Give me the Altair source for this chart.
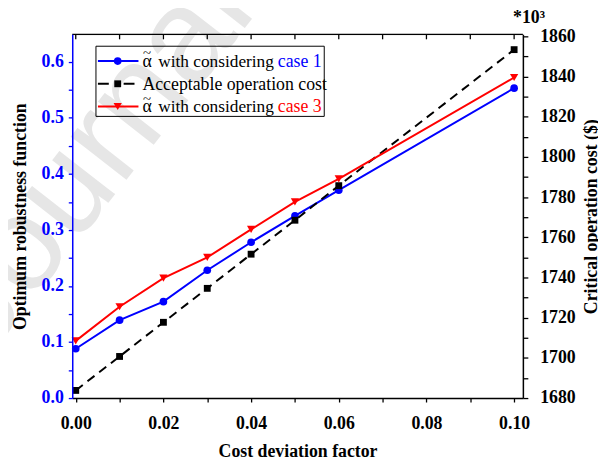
import altair as alt
import pandas as pd

# ---------------- data ----------------
x_vals = [0.00, 0.01, 0.02, 0.03, 0.04, 0.05, 0.06, 0.10]
case1 = [0.088, 0.139, 0.172, 0.228, 0.278, 0.325, 0.371, 0.553]
case3 = [0.102, 0.163, 0.214, 0.251, 0.301, 0.350, 0.391, 0.572]
cost = [1683.8, 1700.7, 1717.7, 1734.6, 1751.6, 1768.5, 1785.7, 1853.4]

x_ticks = [0.00, 0.01, 0.02, 0.03, 0.04, 0.05, 0.06, 0.07, 0.08, 0.09, 0.10]
left_ticks = [0.0, 0.05, 0.1, 0.15, 0.2, 0.25, 0.3, 0.35, 0.4, 0.45, 0.5, 0.55, 0.6]
right_ticks = [1680, 1690, 1700, 1710, 1720, 1730, 1740, 1750, 1760, 1770,
               1780, 1790, 1800, 1810, 1820, 1830, 1840, 1850, 1860]

legend_labels = ["with considering", "Acceptable operation cost", "with considering"]
legend_case = ["case 1", "case 3"]

df = pd.DataFrame({"x": x_vals, "case1": case1, "case3": case3, "cost": cost})
tick_df = pd.DataFrame({"x": x_ticks})
one = pd.DataFrame({"a": [0]})

W, H = 456, 368
SERIF = "Liberation Serif"
BLUE = "#0000ff"
RED = "#ff0000"

x_axis = alt.Axis(
    orient="bottom", values=x_ticks, format=".2f",
    labelExpr="round(datum.value*100) % 2 == 0 ? datum.label : ''",
    title="Cost deviation factor", tickSize=4, tickColor="black", tickWidth=1.3,
    domainColor="black", domainWidth=1.5, labelFont=SERIF, labelFontWeight="bold",
    labelFontSize=18, labelColor="black", labelPadding=13, labelFlush=False,
    labelOverlap=False, titleFont=SERIF, titleFontSize=18, titleFontWeight="bold",
    titleColor="black", titlePadding=10, grid=False, zindex=1)
x_scale = alt.Scale(domain=[-0.0008, 0.102], nice=False, zero=False)


def X():
    return alt.X("x:Q", scale=x_scale, axis=x_axis)


left_scale = alt.Scale(domain=[0, 0.649], nice=False, zero=False)
left_axis = alt.Axis(
    orient="left", values=left_ticks, format=".1f",
    labelExpr="round(datum.value*20) % 2 == 0 ? datum.label : ''",
    title="Optimum robustness function", tickSize=4, tickColor=BLUE, tickWidth=1.3,
    domainColor=BLUE, domainWidth=1.5, labelFont=SERIF, labelFontWeight="bold",
    labelFontSize=18, labelColor=BLUE, labelPadding=5, labelOverlap=False,
    labelFlush=False, titleFont=SERIF, titleFontSize=18, titleFontWeight="bold",
    titleColor="black", titlePadding=12, grid=False, zindex=1)

right_scale = alt.Scale(domain=[1680, 1861], nice=False, zero=False)
right_axis = alt.Axis(
    orient="right", values=right_ticks, format="d",
    labelExpr="datum.value % 20 == 0 ? datum.label : ''",
    title="Critical operation cost ($)", titleAngle=270, tickSize=5,
    tickColor="black", tickWidth=1.3, domainColor="black", domainWidth=1.5,
    labelFont=SERIF, labelFontWeight="bold", labelFontSize=18, labelColor="black",
    labelPadding=12, labelOverlap=False, labelFlush=False, titleFont=SERIF,
    titleFontSize=18, titleFontWeight="bold", titleColor="black", titlePadding=25,
    grid=False, zindex=1)

# watermark
watermark = alt.Chart(one).mark_text(
    text="Journal Pre-proof", font="Liberation Sans", fontSize=135, color="#e6e6e6",
    angle=308, align="left", baseline="alphabetic"
).encode(x=alt.value(-85), y=alt.value(326))

# frame top + inward ticks
top_border = alt.Chart(one).mark_rule(color="black", strokeWidth=1.5).encode(
    x=alt.value(0), x2=alt.value(W), y=alt.value(0))
top_ticks = alt.Chart(tick_df).mark_rule(color="black", strokeWidth=1.3).encode(
    x=X(), y=alt.value(0), y2=alt.value(5))

# series
blue_line = alt.Chart(df).mark_line(color=BLUE, strokeWidth=2).encode(
    x=X(), y=alt.Y("case1:Q", scale=left_scale, axis=left_axis))
blue_pts = alt.Chart(df).mark_point(filled=True, shape="circle", size=60,
                                    color=BLUE, opacity=1).encode(
    x=X(), y=alt.Y("case1:Q", scale=left_scale, axis=left_axis))
blue = alt.layer(blue_line, blue_pts)

black_line = alt.Chart(df).mark_line(color="black", strokeWidth=2,
                                     strokeDash=[9, 6]).encode(
    x=X(), y=alt.Y("cost:Q", scale=right_scale, axis=right_axis))
black_pts = alt.Chart(df).mark_point(filled=True, shape="square", size=48,
                                     color="black", opacity=1).encode(
    x=X(), y=alt.Y("cost:Q", scale=right_scale, axis=right_axis))
black = alt.layer(black_line, black_pts)

red_line = alt.Chart(df).mark_line(color=RED, strokeWidth=2).encode(
    x=X(), y=alt.Y("case3:Q", scale=left_scale, axis=None))
red_pts = alt.Chart(df).mark_point(filled=True, shape="triangle-down", size=70,
                                   color=RED, opacity=1).encode(
    x=X(), y=alt.Y("case3:Q", scale=left_scale, axis=None))
red = alt.layer(red_line, red_pts)

# legend (manual, to allow coloured words)
rows_y = [27, 50, 73]
lg = []
lg.append(alt.Chart(one).mark_rect(fillOpacity=0, stroke="black", strokeWidth=1).encode(
    x=alt.value(24), x2=alt.value(255), y=alt.value(12), y2=alt.value(83)))
lg.append(alt.Chart(one).mark_rule(color=BLUE, strokeWidth=2).encode(
    x=alt.value(26), x2=alt.value(67), y=alt.value(rows_y[0])))
lg.append(alt.Chart(one).mark_point(filled=True, shape="circle", size=60, color=BLUE,
                                    opacity=1).encode(x=alt.value(46), y=alt.value(rows_y[0])))
lg.append(alt.Chart(one).mark_rule(color="black", strokeWidth=2, strokeDash=[11, 15]).encode(
    x=alt.value(26), x2=alt.value(64), y=alt.value(rows_y[1])))
lg.append(alt.Chart(one).mark_point(filled=True, shape="square", size=48, color="black",
                                    opacity=1).encode(x=alt.value(46), y=alt.value(rows_y[1])))
lg.append(alt.Chart(one).mark_rule(color=RED, strokeWidth=2).encode(
    x=alt.value(26), x2=alt.value(67), y=alt.value(rows_y[2])))
lg.append(alt.Chart(one).mark_point(filled=True, shape="triangle-down", size=70, color=RED,
                                    opacity=1).encode(x=alt.value(46), y=alt.value(rows_y[2])))
# alpha with tilde (drawn as two glyphs) for rows 1 and 3
for ry in (rows_y[0], rows_y[2]):
    lg.append(alt.Chart(one).mark_text(text="\u03b1", font=SERIF, fontSize=18, color="black",
                                       align="left", baseline="middle").encode(
        x=alt.value(71), y=alt.value(ry + 1)))
    lg.append(alt.Chart(one).mark_text(text="~", font=SERIF, fontSize=15, color="black",
                                       align="left", baseline="alphabetic").encode(
        x=alt.value(71.5), y=alt.value(ry - 3)))
text_x = [87, 71, 87]
text_size = [17.5, 18, 17.5]
for i, lab in enumerate(legend_labels):
    lg.append(alt.Chart(one).mark_text(text=lab, font=SERIF, fontSize=text_size[i],
                                       color="black", align="left",
                                       baseline="middle").encode(
        x=alt.value(text_x[i]), y=alt.value(rows_y[i] + 1)))
lg.append(alt.Chart(one).mark_text(text=legend_case[0], font=SERIF, fontSize=18, color=BLUE,
                                   align="left", baseline="middle").encode(
    x=alt.value(208), y=alt.value(rows_y[0] + 1)))
lg.append(alt.Chart(one).mark_text(text=legend_case[1], font=SERIF, fontSize=18, color=RED,
                                   align="left", baseline="middle").encode(
    x=alt.value(208), y=alt.value(rows_y[2] + 1)))

multiplier = alt.Chart(one).mark_text(
    text="*10\u00b3", font=SERIF, fontSize=18, fontWeight="bold", color="black",
    align="left", baseline="alphabetic").encode(x=alt.value(446), y=alt.value(-12))

chart = alt.layer(
    watermark, top_border, top_ticks, blue, black, red, *lg, multiplier
).resolve_scale(y="independent").properties(
    width=W, height=H,
    autosize=alt.AutoSizeParams(type="none"),
    padding={"left": 65, "top": 24, "right": 76, "bottom": 60},
).configure_view(stroke=None).configure(background="white")

chart.save("out.html", embed_options={"renderer": "svg", "actions": False})
